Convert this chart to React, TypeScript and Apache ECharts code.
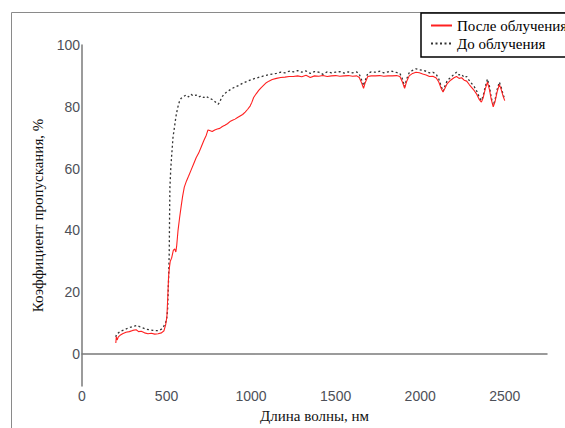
import React, { useEffect, useRef } from "react";
import * as echarts from "echarts";

// ---- Data ----
const seriesNames = ["После облучения", "До облучения"];

// "До облучения" (before irradiation), wavelength in nm
const beforeX = [
  200, 205, 215, 230, 250, 270, 290, 310, 325, 340, 360, 380, 400, 420, 440, 455, 470, 482, 492, 500,
  506, 512, 516, 518, 520, 525, 530, 538, 547, 556, 565, 575, 585, 600, 615, 630, 645, 660, 675, 690,
  705, 720, 735, 750, 765, 780, 795, 805, 815, 825, 840, 855, 870, 890, 910, 930, 950, 975, 1000, 1025,
  1050, 1075, 1100, 1125, 1150, 1175, 1200, 1225, 1250, 1275, 1300, 1325, 1350, 1375, 1400, 1425, 1450, 1475, 1500, 1525,
  1550, 1575, 1600, 1625, 1640, 1655, 1665, 1675, 1690, 1710, 1735, 1760, 1785, 1810, 1835, 1860, 1880, 1895, 1908, 1920,
  1935, 1955, 1975, 1995, 2015, 2035, 2055, 2075, 2095, 2110, 2125, 2135, 2145, 2160, 2180, 2200, 2215, 2230, 2245, 2260,
  2275, 2290, 2305, 2320, 2335, 2350, 2362, 2372, 2385, 2398, 2410, 2420, 2432, 2442, 2455, 2468, 2478, 2490, 2500,
];
const beforeY = [
  5.5, 6.5, 6.8, 7.4, 7.8, 8.3, 8.7, 9.0, 9.2, 8.8, 8.4, 8.0, 7.8, 7.6, 7.5, 7.6, 8.0, 8.8, 9.8, 11.0,
  14.0, 24.0, 33.0, 45.0, 54.0, 60.0, 64.0, 70.0, 73.5, 77.0, 79.5, 81.5, 82.7, 83.3, 83.8, 83.2, 84.0, 83.5, 83.8, 83.2,
  83.5, 83.0, 83.4, 82.8, 82.5, 82.0, 81.2, 80.8, 81.5, 83.0, 84.0, 84.8, 85.3, 86.0, 86.5, 87.0, 87.6, 88.2, 88.8, 89.2,
  89.6, 90.0, 90.3, 90.6, 90.8, 91.2, 91.0, 91.5, 91.3, 91.7, 91.2, 91.6, 90.8, 91.4, 91.2, 90.5, 91.3, 91.0, 91.2, 91.4,
  90.9, 91.3, 91.0, 91.3, 90.5, 88.5, 86.8, 88.5, 90.8, 91.3, 91.2, 91.5, 91.0, 91.3, 91.5, 91.1, 90.8, 89.0, 86.5, 89.0,
  91.0, 91.8, 92.3, 92.0, 91.8, 91.5, 91.0, 91.2, 90.5, 89.0, 86.5, 85.0, 86.5, 88.5, 89.5, 90.5, 91.2, 90.3, 90.5, 89.5,
  89.8, 88.5, 87.5, 86.5, 85.0, 83.0, 82.0, 83.5, 86.5, 89.0, 86.5, 83.0, 80.5, 82.0, 85.5, 88.0, 86.5, 84.0, 82.5,
];

// "После облучения" (after irradiation)
const afterX = [
  200, 203, 208, 215, 225, 240, 260, 280, 300, 320, 335, 350, 370, 390, 410, 430, 450, 470, 485, 495,
  502, 507, 512, 517, 522, 530, 540, 548, 555, 560, 568, 577, 587, 595, 605, 618, 630, 645, 660, 675,
  690, 705, 720, 735, 745, 755, 770, 785, 800, 815, 830, 845, 860, 875, 890, 905, 920, 935, 950, 965,
  980, 995, 1005, 1015, 1030, 1045, 1060, 1075, 1090, 1105, 1125, 1150, 1175, 1200, 1225, 1250, 1275, 1300, 1325, 1350,
  1375, 1400, 1425, 1450, 1475, 1500, 1525, 1550, 1575, 1600, 1625, 1640, 1655, 1665, 1675, 1690, 1710, 1735, 1760, 1785,
  1810, 1835, 1860, 1880, 1895, 1908, 1920, 1935, 1955, 1975, 1995, 2015, 2035, 2055, 2075, 2095, 2110, 2125, 2135, 2145,
  2160, 2180, 2200, 2215, 2230, 2245, 2260, 2275, 2290, 2305, 2320, 2335, 2350, 2362, 2372, 2385, 2398, 2410, 2420, 2432,
  2442, 2455, 2468, 2478, 2490, 2500,
];
const afterY = [
  3.5, 5.5, 4.5, 5.5, 6.0, 6.5, 7.0, 7.2, 7.6, 7.8, 7.2, 7.3, 6.8, 6.5, 6.7, 6.4, 6.5, 6.8, 7.5, 9.5,
  12.0, 18.0, 25.0, 28.0, 30.0, 31.0, 33.5, 34.0, 33.0, 35.0, 40.0, 44.0, 48.0, 51.0, 54.0, 56.0, 57.5, 59.5, 61.5, 63.5,
  65.0, 67.0, 69.0, 70.8, 72.5, 72.3, 72.0, 72.5, 72.8, 73.0, 73.6, 74.0, 74.5, 75.2, 75.6, 76.0, 76.5, 77.0, 77.5, 78.3,
  79.2, 80.3, 81.5, 83.0, 84.2, 85.3, 86.2, 87.0, 87.8, 88.3, 88.8, 89.2, 89.5, 89.6, 89.8, 89.8, 90.0, 89.7, 90.2, 89.5,
  90.0, 89.9, 90.1, 89.8, 90.0, 90.1, 89.9, 90.0, 90.1, 89.9, 90.0, 89.5, 87.5, 86.0, 87.8, 89.8, 90.0, 90.0, 90.1, 89.9,
  90.0, 90.0, 90.1, 89.8, 88.0, 86.0, 88.2, 90.0, 90.8, 91.2, 91.0, 90.6, 90.3, 89.8, 89.9, 89.3, 88.0, 85.8, 84.8, 85.8,
  87.5, 88.6, 89.4, 89.8, 89.2, 89.4, 88.6, 88.3, 87.2, 86.2, 85.2, 84.0, 82.3, 81.5, 82.8, 85.8, 88.0, 85.5, 82.5, 80.0,
  81.5, 84.8, 87.2, 85.8, 83.5, 82.0,
];

const xTitle = "Длина волны, нм";
const yTitle = "Коэффициент пропускания, %";

const zip = (xs: number[], ys: number[]) => xs.map((x, i) => [x, ys[i]]);

export default function App() {
  const ref = useRef<HTMLDivElement>(null);

  useEffect(() => {
    if (!ref.current) return;
    const chart = echarts.init(ref.current, undefined, { renderer: "svg" });
    const labelStyle = {
      color: "#4d5058",
      fontFamily: "Liberation Sans",
      fontSize: 14,
    };
    const titleStyle = {
      color: "#111",
      fontFamily: "Liberation Serif",
      fontSize: 15,
    };
    chart.setOption({
      animation: false,
      backgroundColor: "#fff",
      grid: { left: 82, right: 18, top: 45, bottom: 34, containLabel: false },
      xAxis: {
        type: "value",
        min: 0,
        max: 2750,
        interval: 500,
        splitLine: { show: false },
        axisTick: { show: false },
        axisLine: { show: true, lineStyle: { color: "#7a7a7a", width: 1.5 } },
        axisLabel: {
          ...labelStyle,
          margin: 3,
          showMaxLabel: false,
          formatter: (v: number) => String(v),
        },
        name: xTitle,
        nameLocation: "middle",
        nameGap: 22,
        nameTextStyle: titleStyle,
      },
      yAxis: {
        type: "value",
        min: -10.4,
        max: 100,
        splitNumber: 5,
        splitLine: { show: false },
        axisTick: { show: false },
        axisLine: { show: true, lineStyle: { color: "#7a7a7a", width: 1.5 } },
        axisLabel: {
          ...labelStyle,
          margin: 2,
          showMinLabel: false,
          formatter: (v: number) => (Math.abs(v % 20) < 1e-6 ? String(v) : ""),
        },
        name: yTitle,
        nameLocation: "middle",
        nameGap: 33,
        nameTextStyle: titleStyle,
      },
      legend: {
        orient: "vertical",
        left: 430,
        top: 18,
        itemWidth: 21,
        itemHeight: 12,
        itemGap: 3,
        padding: 0,
        z: 10,
        data: seriesNames,
        itemStyle: { opacity: 0 },
        textStyle: { color: "#000", fontFamily: "Liberation Serif", fontSize: 15 },
      },
      graphic: [
        {
          type: "line",
          shape: { x1: 11.5, y1: 12.5, x2: 565, y2: 12.5 },
          style: { stroke: "#8a8a8a", lineWidth: 1 },
          silent: true,
        },
        {
          type: "line",
          shape: { x1: 11.5, y1: 12.5, x2: 11.5, y2: 428 },
          style: { stroke: "#8a8a8a", lineWidth: 1 },
          silent: true,
        },
        {
          type: "rect",
          z: 1,
          shape: { x: 421, y: 13, width: 200, height: 44 },
          style: { fill: "#fff", stroke: "#000", lineWidth: 1.5 },
          silent: true,
        },
      ],
      series: [
        {
          name: seriesNames[0],
          type: "line",
          data: zip(afterX, afterY),
          symbol: "none",
          lineStyle: { color: "#ff2020", width: 1.1 },
          itemStyle: { color: "#ff2020" },
          z: 3,
        },
        {
          name: seriesNames[1],
          type: "line",
          data: zip(beforeX, beforeY),
          symbol: "none",
          lineStyle: { color: "#333", width: 1.3, type: [2, 2.5] },
          itemStyle: { color: "#333" },
          z: 2,
        },
      ],
    });
    return () => chart.dispose();
  }, []);

  return (
    <div
      ref={ref}
      style={{ position: "absolute", left: 0, top: 0, width: 565, height: 428 }}
    />
  );
}
